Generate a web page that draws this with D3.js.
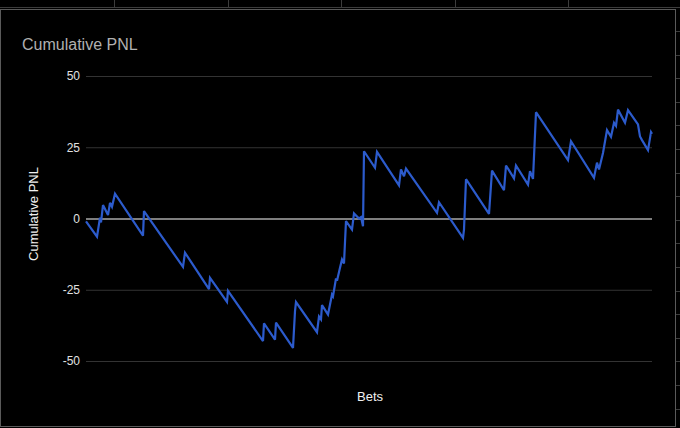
<!DOCTYPE html>
<html>
<head>
<meta charset="utf-8">
<script src="https://cdn.jsdelivr.net/npm/d3@7"></script>
<style>
  html, body { margin: 0; padding: 0; background: #000; }
  svg { display: block; }
  text { font-family: "Liberation Sans", Arial, sans-serif; }
</style>
</head>
<body>
<svg id="chart" width="680" height="428"></svg>
<script>
// Turning points of the cumulative PNL series (bet number, cumulative PNL)
const bets = [0, 11, 14, 15, 17, 22, 24, 26, 29, 57, 58, 97, 99, 123, 124, 141, 142,
  177, 178, 189, 190, 207, 209, 210, 231, 233, 235, 236, 242, 246, 247, 250, 251, 254,
  256, 258, 260, 266, 268, 273, 275, 277, 278, 289, 291, 313, 315, 318, 320, 351, 353,
  377, 378, 380, 403, 406, 418, 420, 428, 430, 442, 444, 447, 450, 482, 485, 508, 511,
  513, 517, 521, 525, 528, 530, 532, 539, 542, 552, 554, 556, 562, 565, 566];
const pnl = [-1.0, -6.4, 0.3, -1.4, 4.7, 1.2, 5.5, 4.1, 8.7, -6.0, 2.6, -17.0, -12.0, -24.8, -20.8, -29.3, -25.4,
  -43.0, -36.8, -42.5, -36.5, -45.4, -32.5, -29.3, -39.9, -34.4, -35.4, -30.4, -33.7, -26.7, -27.3, -21.0, -21.8, -17.3,
  -14.4, -15.8, -0.9, -3.9, 1.8, 0.0, 0.5, -2.7, 23.6, 17.8, 23.4, 11.6, 17.2, 14.8, 17.5, 2.0, 5.7,
  -6.8, -3.9, 13.8, 1.6, 16.8, 9.9, 18.6, 14.1, 18.6, 11.9, 16.6, 13.9, 37.3, 20.5, 27.1, 14.3, 19.6,
  17.2, 23.0, 31.0, 28.7, 33.6, 32.5, 38.2, 33.6, 38.0, 33.0, 28.8, 27.5, 24.0, 30.3, 29.7];
const yTicks = [-50, -25, 0, 25, 50];
const title = "Cumulative PNL";
const xTitle = "Bets";
const yTitle = "Cumulative PNL";

const data = bets.map((b, i) => ({ bet: b, pnl: pnl[i] }));

const svg = d3.select("#chart");

// spreadsheet background grid
const sheet = svg.append("g").attr("stroke", "#3c3c3c").attr("stroke-width", 1);
sheet.append("line").attr("x1", 0).attr("x2", 680).attr("y1", 7.5).attr("y2", 7.5);
[114, 228, 341, 455, 568].forEach(x => {
  sheet.append("line").attr("x1", x + 0.5).attr("x2", x + 0.5).attr("y1", 0).attr("y2", 8);
});
for (let y = 31; y < 428; y += 23.6) {
  sheet.append("line").attr("x1", 676).attr("x2", 680).attr("y1", Math.round(y) + 0.5).attr("y2", Math.round(y) + 0.5);
}

// chart frame
svg.append("rect")
  .attr("x", 0.5).attr("y", 9.5).attr("width", 675).attr("height", 417)
  .attr("fill", "#000").attr("stroke", "#5a5a5a").attr("stroke-width", 1);

const x = d3.scaleLinear().domain([0, 566]).range([86, 652]);
const y = d3.scaleLinear().domain([-50, 50]).range([361, 76]);

// gridlines
const grid = svg.append("g")
  .attr("transform", "translate(86,0)")
  .call(d3.axisLeft(y).tickValues(yTicks).tickSize(-(652 - 86)).tickFormat(""));
grid.select(".domain").remove();
grid.selectAll(".tick line")
  .attr("stroke", d => d === 0 ? "#a8a8a8" : "#333")
  .attr("stroke-width", d => d === 0 ? 1.3 : 1);

// tick labels (plain hyphen for negatives, as in the reference)
const yAxis = svg.append("g")
  .attr("transform", "translate(80,0)")
  .call(d3.axisLeft(y).tickValues(yTicks).tickSize(0).tickPadding(0).tickFormat(d => String(d)));
yAxis.select(".domain").remove();
yAxis.selectAll("text")
  .attr("fill", "#e0e0e0")
  .attr("font-size", 12)
  .attr("font-family", "'Liberation Sans', Arial, sans-serif");

// line
const line = d3.line().x(d => x(d.bet)).y(d => y(d.pnl));
svg.append("path")
  .datum(data)
  .attr("d", line)
  .attr("fill", "none")
  .attr("stroke", "#2c5bcc")
  .attr("stroke-width", 2.2)
  .attr("stroke-linejoin", "miter")
  .attr("stroke-miterlimit", 3);

// titles
svg.append("text")
  .attr("x", 22).attr("y", 50)
  .attr("fill", "#b0b0b0")
  .attr("font-size", 16)
  .text(title);

svg.append("text")
  .attr("x", 370).attr("y", 401)
  .attr("text-anchor", "middle")
  .attr("fill", "#f0f0f0")
  .attr("font-size", 13)
  .text(xTitle);

svg.append("text")
  .attr("transform", "translate(38,214) rotate(-90)")
  .attr("text-anchor", "middle")
  .attr("fill", "#f0f0f0")
  .attr("font-size", 13)
  .text(yTitle);
</script>
</body>
</html>
